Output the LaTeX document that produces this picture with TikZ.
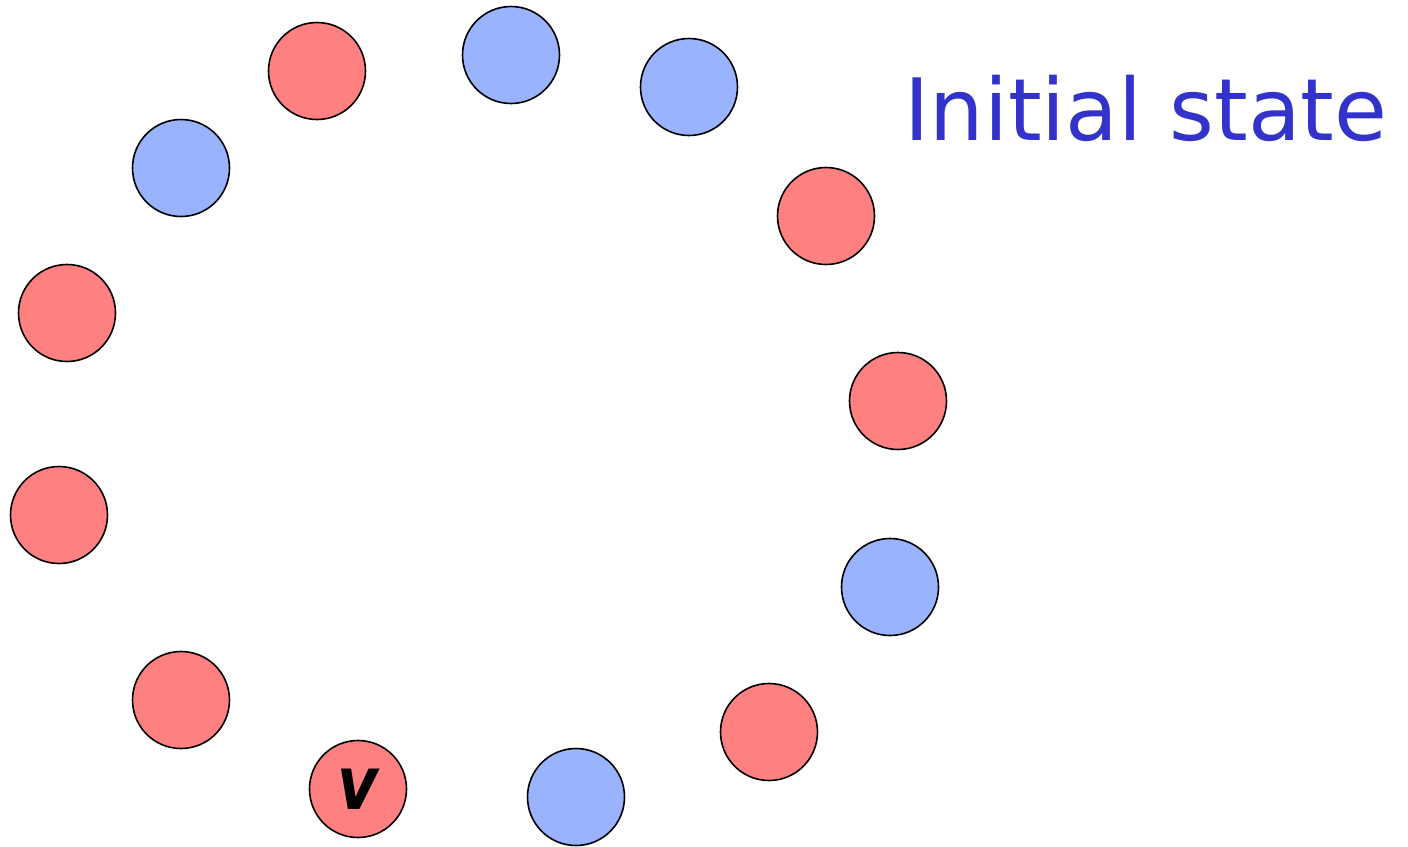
\documentclass[tikz,border=0pt]{standalone}
\usepackage{fontspec}
\newfontfamily\labfont{DejaVu Sans}
\definecolor{redfill}{HTML}{FF8080}
\definecolor{bluefill}{HTML}{99B3FF}
\definecolor{titleblue}{HTML}{3333CC}
\begin{document}
\begin{tikzpicture}[x=1pt,y=-1pt,
  proc/.style={circle,draw=black,line width=1.6pt,minimum size=97pt,inner sep=0pt},
  redp/.style={proc,fill=redfill},
  bluep/.style={proc,fill=bluefill}]
\useasboundingbox (0,0) rectangle (1408,846);
\node[redp]  (p1)  at (317,71) {};
\node[bluep] (p2)  at (511,55) {};
\node[bluep] (p3)  at (689,87) {};
\node[redp]  (p4)  at (826,216) {};
\node[redp]  (p5)  at (898,401) {};
\node[bluep] (p6)  at (890,587) {};
\node[redp]  (p7)  at (769,732) {};
\node[bluep] (p8)  at (576,797) {};
\node[redp]  (p9)  at (358,789) {};
\node[inner sep=0pt,xscale=0.85] (v) at (358,789) {\labfont\bfseries\itshape\fontsize{74}{74}\selectfont v};
\node[redp]  (p10) at (181,700) {};
\node[redp]  (p11) at (59,515) {};
\node[redp]  (p12) at (67,313) {};
\node[bluep] (p13) at (181,168) {};
\node[anchor=west,text=titleblue,inner sep=0pt] (title) at (904,108) {\labfont\fontsize{86}{86}\selectfont Initial state};
\end{tikzpicture}
\end{document}
